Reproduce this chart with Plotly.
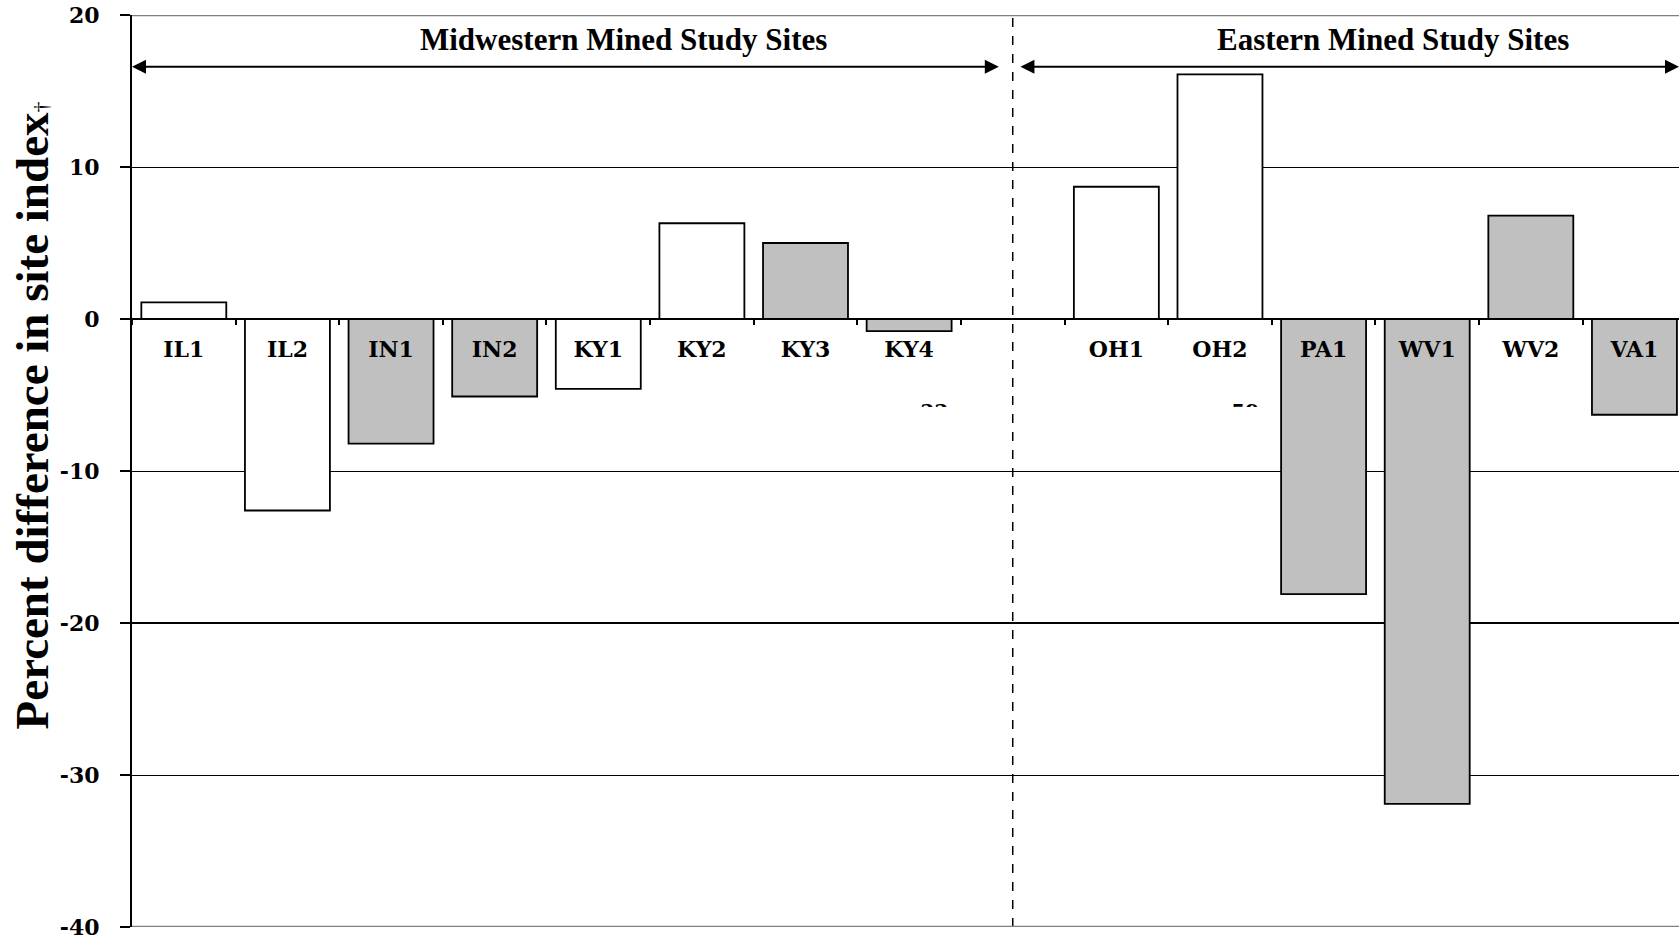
import plotly.graph_objects as go

# ---- data ----
sites = ["IL1", "IL2", "IN1", "IN2", "KY1", "KY2", "KY3", "KY4", " ",
         "OH1", "OH2", "PA1", "WV1", "WV2", "VA1"]
pct_diff = [1.1, -12.6, -8.2, -5.1, -4.6, 6.3, 5.0, -0.8, None,
            8.7, 16.1, -18.1, -31.9, 6.8, -6.3]
fill_type = ["open", "open", "shaded", "shaded", "open", "open", "shaded", "shaded", "open",
             "open", "open", "shaded", "shaded", "shaded", "shaded"]
region_titles = ["Midwestern Mined Study Sites", "Eastern Mined Study Sites"]
y_ticks = [20, 10, 0, -10, -20, -30, -40]
y_tick_text = ["20", "10", "0", "-10", "-20", "-30", "-40"]
stray_labels = ["-33", "-59"]
stray_at = ["KY4", "OH2"]

color_map = {"open": "#FFFFFF", "shaded": "#C0C0C0"}
bar_colors = [color_map[t] for t in fill_type]

fig = go.Figure()
fig.add_trace(go.Bar(
    x=sites, y=pct_diff,
    marker=dict(color=bar_colors, line=dict(color="black", width=1.8)),
    width=0.82, showlegend=False, hoverinfo="x+y",
))

gap_idx = sites.index(" ")
n = len(sites)
x_end = n - 0.57

shapes = [
    dict(type="line", xref="x", yref="paper", x0=gap_idx, x1=gap_idx, y0=0, y1=1,
         line=dict(color="black", width=1.5, dash="dash"), layer="above"),
    dict(type="line", xref="paper", yref="y", x0=0, x1=1, y0=-20, y1=-20,
         line=dict(color="black", width=2), layer="below"),
    dict(type="line", xref="paper", yref="y", x0=0, x1=1, y0=max(y_ticks), y1=max(y_ticks),
         line=dict(color="#808080", width=2.5), layer="above"),
    dict(type="line", xref="paper", yref="y", x0=0, x1=1, y0=min(y_ticks), y1=min(y_ticks),
         line=dict(color="#808080", width=2.5), layer="above"),
]

arrow_y = 16.6
annotations = [
    dict(x=-0.5, y=arrow_y, ax=gap_idx - 0.12, ay=arrow_y, xref="x", yref="y",
         axref="x", ayref="y", text="", showarrow=True, arrowhead=2, startarrowhead=2,
         arrowside="end+start", arrowsize=1.4, startarrowsize=1.4, arrowwidth=2, arrowcolor="black"),
    dict(x=x_end, y=arrow_y, ax=gap_idx + 0.06, ay=arrow_y, xref="x", yref="y",
         axref="x", ayref="y", text="", showarrow=True, arrowhead=2, startarrowhead=2,
         arrowside="end+start", arrowsize=1.4, startarrowsize=1.4, arrowwidth=2, arrowcolor="black"),
    dict(x=0.318, y=0.9726, xref="paper", yref="paper", xanchor="center", yanchor="middle",
         text="<b>" + region_titles[0] + "</b>",
         showarrow=False, font=dict(family="Liberation Serif", size=31, color="black")),
    dict(x=0.815, y=0.9726, xref="paper", yref="paper", xanchor="center", yanchor="middle",
         text="<b>" + region_titles[1] + "</b>",
         showarrow=False, font=dict(family="Liberation Serif", size=31, color="black")),
    dict(x=-0.0646, y=0.561, xref="paper", yref="paper", xanchor="center", yanchor="middle",
         textangle=-90,
         text="<b>Percent difference in site index</b><span style='font-size:22px'>†</span>",
         showarrow=False, font=dict(family="Liberation Serif", size=47, color="black")),
]
for lab, site in zip(stray_labels, stray_at):
    annotations.append(dict(
        x=sites.index(site) + 0.2, y=-5.2, xref="x", yref="y", yanchor="top", xanchor="center",
        text="<b>" + lab + "</b>", showarrow=False, height=7, valign="top",
        font=dict(family="DejaVu Serif", size=20, color="black")))

fig.update_layout(
    width=1679, height=941,
    margin=dict(l=132, r=0, t=15, b=14, autoexpand=False),
    paper_bgcolor="white", plot_bgcolor="white",
    shapes=shapes, annotations=annotations,
    xaxis=dict(
        type="category", categoryorder="array", categoryarray=sites,
        range=[-0.5, x_end], automargin=False,
        anchor="free", position=2 / 3,
        showline=True, linecolor="black", linewidth=2,
        ticks="outside", tickson="boundaries", ticklen=5, tickwidth=1.5, tickcolor="black",
        tickfont=dict(family="DejaVu Serif", size=22, color="black", weight="bold"),
        ticklabelstandoff=11, ticklabeloverflow="allow",
        showgrid=False, zeroline=False,
    ),
    yaxis=dict(
        range=[min(y_ticks), max(y_ticks)], tickvals=y_ticks, ticktext=y_tick_text,
        automargin=False,
        showline=True, linecolor="black", linewidth=2.2,
        ticks="outside", ticklen=10, tickwidth=1.5, tickcolor="black",
        tickfont=dict(family="DejaVu Serif", size=22, color="black", weight="bold"),
        ticklabelstandoff=16, ticklabeloverflow="allow",
        showgrid=True, gridcolor="black", gridwidth=1,
        zeroline=False,
    ),
)

fig.write_html(
    "out.html",
    config={"displayModeBar": False},
    post_script="document.body.style.margin='0';document.body.style.overflow='hidden';",
)
